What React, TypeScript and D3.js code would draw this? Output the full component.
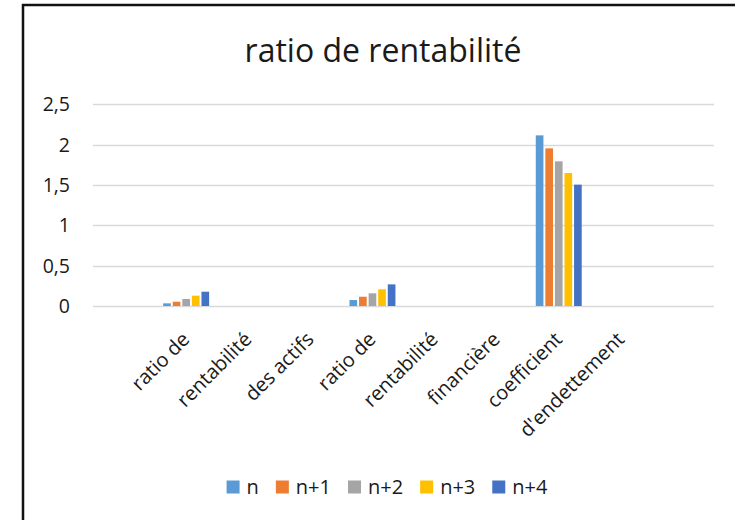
import { useEffect, useRef } from "react";
import * as d3 from "d3";

const categories = ["", "ratio de", "rentabilité", "des actifs", "ratio de", "rentabilité", "financière", "coefficient", "d'endettement", ""];
const seriesNames = ["n", "n+1", "n+2", "n+3", "n+4"];
const valuesN = [null, 0.033, null, null, 0.074, null, null, 2.115, null, null];
const valuesN1 = [null, 0.053, null, null, 0.115, null, null, 1.954, null, null];
const valuesN2 = [null, 0.087, null, null, 0.157, null, null, 1.793, null, null];
const valuesN3 = [null, 0.128, null, null, 0.207, null, null, 1.648, null, null];
const valuesN4 = [null, 0.177, null, null, 0.268, null, null, 1.504, null, null];
const yTicks = [0, 0.5, 1, 1.5, 2, 2.5];
const colors = ["#5B9BD5", "#ED7D31", "#A5A5A5", "#FFC000", "#4472C4"];

const W = 735;
const H = 520;
const FONT = "'Open Sans', Lato, sans-serif";
const TEXT = "#1a1a1a";

export default function App() {
  const svgRef = useRef<SVGSVGElement | null>(null);

  useEffect(() => {
    if (!svgRef.current) return;
    const svg = d3.select(svgRef.current);
    svg.selectAll("*").remove();

    const margin = { left: 93, right: 21, top: 104.3, bottom: 214 };
    const allValues = [valuesN, valuesN1, valuesN2, valuesN3, valuesN4];

    // chart frame (runs off the right and bottom of the picture)
    svg.append("rect")
      .attr("x", 23).attr("y", 5).attr("width", 760).attr("height", 560)
      .attr("fill", "#fff").attr("stroke", "#111").attr("stroke-width", 2.5);

    svg.append("text")
      .attr("x", 383).attr("y", 62)
      .attr("text-anchor", "middle")
      .attr("font-family", FONT).attr("font-size", 32)
      .attr("fill", TEXT)
      .text("ratio de rentabilité");

    const x0 = d3.scaleBand<number>()
      .domain(d3.range(categories.length))
      .range([margin.left, W - margin.right])
      .padding(0);
    const bw = x0.bandwidth();
    const x1 = d3.scaleBand<string>()
      .domain(seriesNames)
      .range([bw * 0.13, bw * 0.87])
      .paddingInner(0.2);
    const y = d3.scaleLinear().domain([0, 2.5]).range([H - margin.bottom, margin.top]);

    // gridlines + y labels
    const grid = svg.append("g");
    grid.selectAll("line")
      .data(yTicks)
      .join("line")
      .attr("x1", margin.left).attr("x2", W - margin.right)
      .attr("y1", (d) => Math.round(y(d)) + 0.5).attr("y2", (d) => Math.round(y(d)) + 0.5)
      .attr("stroke", "#d9d9d9").attr("stroke-width", 1.3);
    grid.selectAll("text")
      .data(yTicks)
      .join("text")
      .attr("x", 70).attr("y", (d) => y(d))
      .attr("dy", "0.36em")
      .attr("text-anchor", "end")
      .attr("font-family", FONT).attr("font-size", 19.5)
      .attr("fill", TEXT)
      .text((d) => d3.format("")(d).replace(".", ","));

    // bars
    const bars = svg.append("g");
    allValues.forEach((vals, si) => {
      bars.selectAll(`rect.s${si}`)
        .data(vals.map((v, i) => ({ v, i })).filter((d) => d.v !== null))
        .join("rect")
        .attr("class", `s${si}`)
        .attr("x", (d) => (x0(d.i) ?? 0) + (x1(seriesNames[si]) ?? 0))
        .attr("y", (d) => y(d.v as number))
        .attr("width", x1.bandwidth())
        .attr("height", (d) => y(0) - y(d.v as number))
        .attr("fill", colors[si]);
    });

    // category labels, rotated
    svg.append("g")
      .selectAll("text")
      .data(categories.map((c, i) => ({ c, i })).filter((d) => d.c !== ""))
      .join("text")
      .attr("transform", (d) => `translate(${(x0(d.i) ?? 0) + bw / 2 - 6},${y(0) + 24}) rotate(-45)`)
      .attr("dy", "0.75em")
      .attr("text-anchor", "end")
      .attr("font-family", FONT).attr("font-size", 20)
      .attr("fill", TEXT)
      .text((d) => d.c);

    // legend
    const legend = svg.append("g");
    const items = legend.selectAll("g")
      .data(seriesNames)
      .join("g");
    items.append("rect")
      .attr("width", 13).attr("height", 13)
      .attr("y", -6.5)
      .attr("fill", (_, i) => colors[i]);
    items.append("text")
      .attr("x", 20).attr("dy", "0.36em")
      .attr("font-family", FONT).attr("font-size", 20)
      .attr("fill", TEXT)
      .text((d) => d);
    const widths: number[] = [];
    items.each(function () {
      const t = d3.select(this).select("text").node() as SVGTextElement;
      widths.push(20 + t.getComputedTextLength());
    });
    const gap = 17;
    const total = d3.sum(widths) + gap * (widths.length - 1);
    let cx = 387 - total / 2;
    items.attr("transform", (_, i) => {
      const tx = cx;
      cx += widths[i] + gap;
      return `translate(${tx},487)`;
    });
  }, []);

  return (
    <svg
      ref={svgRef}
      width={W}
      height={H}
      style={{ position: "absolute", left: 0, top: 0, background: "#fff" }}
    />
  );
}
